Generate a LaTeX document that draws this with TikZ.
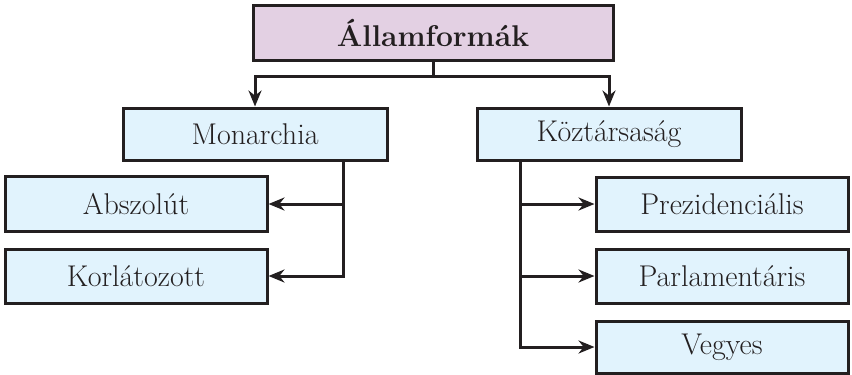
\documentclass[tikz,border=0pt]{standalone}
\usetikzlibrary{arrows.meta}
\definecolor{linec}{HTML}{231F20}
\definecolor{bluef}{HTML}{E1F3FD}
\definecolor{purpf}{HTML}{E3D0E3}
\tikzset{
  box/.style={draw=linec, line width=1.5pt, fill=bluef, inner sep=0pt,
    font=\fontsize{15}{18}\selectfont, text=linec},
  topbox/.style={box, fill=purpf, font=\fontsize{15}{18}\selectfont\bfseries},
  conn/.style={draw=linec, line width=1.5pt, line join=miter,
    -{Stealth[length=8pt,width=6.5pt]}}
}
\begin{document}
\begin{tikzpicture}[x=0.5pt,y=-0.5pt]
\useasboundingbox (0,0) rectangle (852,375);
\node[topbox, minimum width=180pt, minimum height=27.5pt] (top) at (433,33) {Államformák};
\node[box, minimum width=132pt, minimum height=26pt] (mon) at (255,134) {Monarchia};
\node[box, minimum width=132pt, minimum height=26pt] (koz) at (609,134) {Köztársaság};
\node[box, minimum width=131pt, minimum height=27.5pt] (absz) at (136,204) {Abszolút};
\node[box, minimum width=131pt, minimum height=27pt] (korl) at (136,276) {Korlátozott};
\node[box, minimum width=126pt, minimum height=27pt] (prez) at (722,204) {Prezidenciális};
\node[box, minimum width=126pt, minimum height=27pt] (parl) at (722,276) {Parlamentáris};
\node[box, minimum width=126pt, minimum height=26pt] (veg) at (722,347) {Vegyes};
\coordinate (j) at (433,76);
\coordinate (mv) at (343,160);
\coordinate (kv) at (520,160);
\draw[conn] (top.south) -- (j) -| (mon.north);
\draw[conn] (top.south) -- (j) -| (koz.north);
\draw[conn] (mv) |- (absz.east);
\draw[conn] (mv) |- (korl.east);
\draw[conn] (kv) |- (prez.west);
\draw[conn] (kv) |- (parl.west);
\draw[conn] (kv) |- (veg.west);
\end{tikzpicture}
\end{document}
